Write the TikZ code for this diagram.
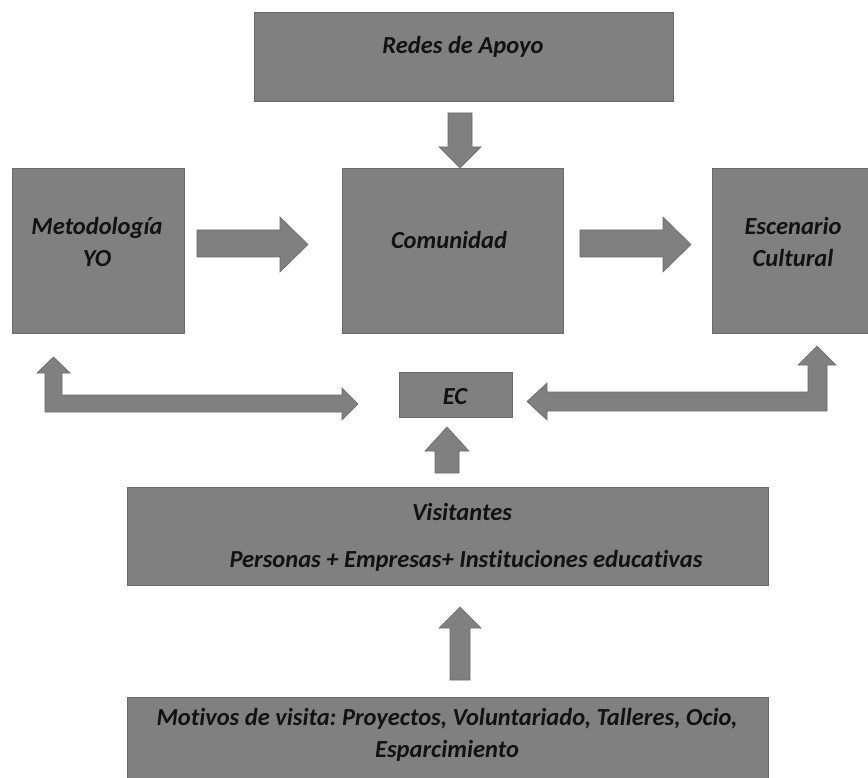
\documentclass[tikz,border=0pt]{standalone}
\usepackage{fontspec}
\setmainfont[Ligatures={NoCommon}]{Carlito}
\frenchspacing
\definecolor{boxgray}{HTML}{808080}
\definecolor{edgegray}{HTML}{6A6A6A}
\definecolor{txt}{HTML}{121212}
\begin{document}
\begin{tikzpicture}[x=1pt,y=-1pt,
  box/.style={draw=edgegray, line width=0.8pt, fill=boxgray, inner sep=0pt, outer sep=0pt},
  lbl/.style={text=txt, font=\fontsize{24.5}{32}\selectfont\bfseries\itshape, align=center, inner sep=0pt},
  blockarrow/.style={draw=edgegray, line width=0.6pt, fill=boxgray, line join=miter}]
\useasboundingbox (0,0) rectangle (868,778);
\fill[white] (0,0) rectangle (868,778);
% boxes
\node[box, minimum width=419pt, minimum height=89pt] (redes) at (463.5,56.5) {};
\node[box, minimum width=172pt, minimum height=165pt] (meto) at (98,250.5) {};
\node[box, minimum width=221pt, minimum height=165pt] (comu) at (452.5,250.5) {};
\node[box, minimum width=162pt, minimum height=165pt] (esc) at (793,250.5) {};
\node[box, minimum width=113pt, minimum height=45pt] (ec) at (456,395) {};
\node[box, minimum width=641pt, minimum height=98pt] (vis) at (447.5,536) {};
\node[box, minimum width=641pt, minimum height=100pt] (mot) at (447.5,747) {};
% texts
\node[lbl] (tredes) at (463,47) {Redes de Apoyo};
\node[lbl] (tmeto) at (97,242) {Metodología\\YO};
\node[lbl] (tcomu) at (449,240) {Comunidad};
\node[lbl] (tesc) at (793,242) {Escenario\\Cultural};
\node[lbl] (tec) at (455,397) {EC};
\node[lbl] (tvis1) at (462,512) {Visitantes};
\node[lbl] (tvis2) at (466,561) {Personas + Empresas+ Instituciones educativas};
\node[lbl] (tmot) at (447,735) {Motivos de visita: Proyectos, Voluntariado, Talleres, Ocio,\\Esparcimiento};
% block arrows
% Redes -> Comunidad
\draw[blockarrow] (448,113) -- (472,113) -- (472,147) -- (481,147) -- (460,168) -- (439,147) -- (448,147) -- cycle;
% Metodologia -> Comunidad
\draw[blockarrow] (197,230) -- (280,230) -- (280,217) -- (308,244.5) -- (280,272) -- (280,257) -- (197,257) -- cycle;
% Comunidad -> Escenario
\draw[blockarrow] (580,230) -- (663,230) -- (663,217) -- (691,244.5) -- (663,272) -- (663,257) -- (580,257) -- cycle;
% bent arrow left (EC <-> Metodologia)
\draw[blockarrow] (45,412) -- (342,412) -- (342,420) -- (358,404) -- (342,388) -- (342,395) -- (62,395) -- (62,373) -- (70,373) -- (53.5,357) -- (37,373) -- (45,373) -- cycle;
% bent arrow right (Escenario <-> EC)
\draw[blockarrow] (827,411) -- (547,411) -- (547,420) -- (527,401.5) -- (547,383) -- (547,392) -- (808,392) -- (808,365) -- (798,365) -- (817,346) -- (836,365) -- (827,365) -- cycle;
% Visitantes -> EC
\draw[blockarrow] (435,473) -- (459,473) -- (459,451) -- (469,451) -- (447,427) -- (425,451) -- (435,451) -- cycle;
% Motivos -> Visitantes
\draw[blockarrow] (450,680) -- (470,680) -- (470,628) -- (481,628) -- (460,607) -- (439,628) -- (450,628) -- cycle;
\end{tikzpicture}
\end{document}
